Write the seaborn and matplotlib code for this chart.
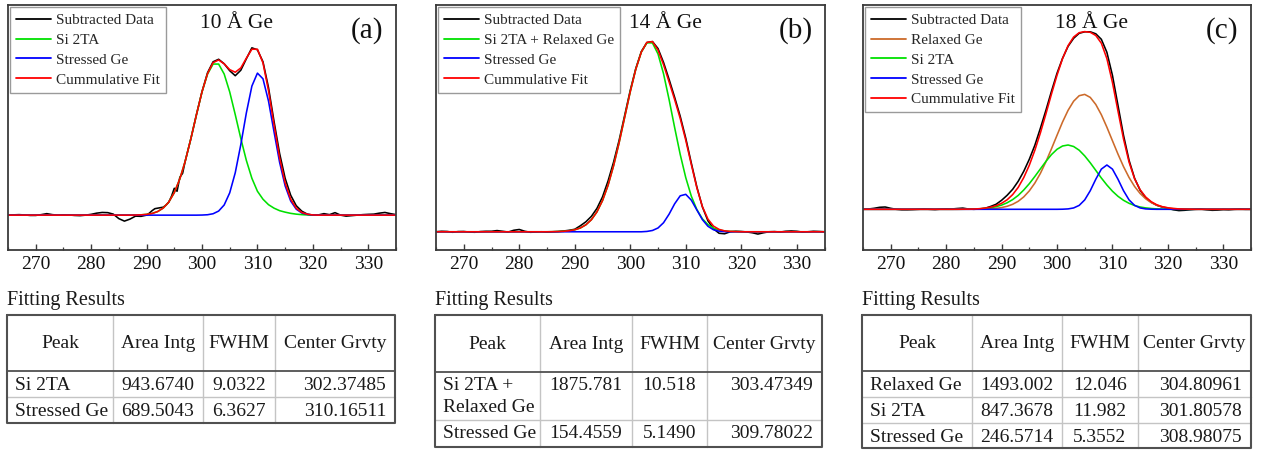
import numpy as np
import matplotlib
matplotlib.use("Agg")
import matplotlib.pyplot as plt
import seaborn as sns

# ---------------- data (intensity in arbitrary units) ----------------
x_fit = np.arange(265, 336)

# panel (a) 10 A Ge
si2ta_a = [0]*23 + [0.1, 0.3, 0.8, 1.7, 3.6, 7.1, 13.1, 22.6, 36.4, 54.7, 76.9, 100.9, 123.7, 141.7,
           151.7, 151.7, 141.7, 123.7, 100.9, 77, 55, 37, 24, 16, 10.5, 7, 4.5, 3, 1.8, 1, 0.5, 0.2] + [0]*16
stressed_a = [0]*35 + [0.1, 0.4, 1.4, 4.1, 10.2, 22.4, 42.6, 70.8, 102.6, 129.6, 142.6, 136.9, 114.5,
              83.5, 53.1, 29.4, 14.2, 6.0, 2.2, 0.7, 0.2] + [0]*15
cumfit_a = [0]*23 + [0.1, 0.3, 0.8, 1.7, 3.6, 7.1, 13.1, 22.6, 36.4, 54.7, 76.9, 100.9, 123.8, 142.1,
            153.1, 155.8, 151.9, 146.1, 143.5, 147.8, 157.6, 166.6, 166.6, 152.9, 125.0, 90.5, 57.6,
            32.4, 16.0, 7.0, 2.7, 0.9, 0.2] + [0]*15
x_data_a = np.r_[265:291, 290.5:297.5:0.5, 298:336]
data_a = [0, 0.3, 0.5, 0.2, -0.3, -0.3, 0.5, 1.5, 0.5, 0, 0.3, 0.2, -0.3, -0.5, 0, 0.8, 2, 2.7, 2.5, 1,
          -3.5, -6, -4, -1, -1.2, 0,
          2, 4.5, 6.5, 7, 7.5, 8, 10, 13, 19, 27, 24, 38, 42, 55,
          77, 101, 124, 143, 154, 156.5, 152, 145, 140, 145.5, 157, 168, 166, 154, 128, 94, 62, 37, 20,
          9.5, 4, 1, 0, 0.2, 1.5, 0.5, 2.5, 0, -1, -0.5, 0, 0.5, 0.8, 1, 2, 2.7, 1.5, 0.5]

# panel (b) 14 A Ge
si2ta_relaxed_b = [0]*20 + [0.0, 0.1, 0.2, 0.5, 1.0, 2.0, 3.8, 7.0, 12.1, 20.0, 31.3, 46.7, 66.4, 89.6,
                   115.1, 140.6, 163.3, 180.5, 189.8, 189.6, 178.6, 158.6, 132.7, 104.6, 77.7, 54.4,
                   35.8, 22.3, 13.0, 7.2, 3.7, 1.8, 0.8, 0.4, 0.15] + [0]*16
stressed_b = [0]*38 + [0.35, 1.3, 3.8, 9.1, 17.7, 28.1, 36.1, 37.6, 31.8, 21.9, 12.2, 5.5, 2.0, 0.6,
              0.14] + [0]*18
cumfit_b = [0]*20 + [0.0, 0.1, 0.2, 0.5, 1.0, 2.0, 3.8, 7.0, 12.1, 20.0, 31.3, 46.7, 66.4, 89.6, 115.1,
            140.6, 163.3, 180.5, 190.2, 190.9, 182.4, 167.7, 150.4, 132.7, 113.8, 92.0, 67.6, 44.2,
            25.2, 12.7, 5.7, 2.4, 0.9, 0.4, 0.15] + [0]*16
data_b = [0, 0.5, 0.3, -0.5, 0.2, 0.3, -0.3, -0.5, 0.2, 0.5, 0.5, 1.2, 0.5, -0.3, 1.5, 2.3, 0.5, -0.5,
          -0.3, 0, -0.4, 0, 0.3, 0.8, 1.5, 2.5,
          6, 10, 15.5, 23.5, 35, 51, 70, 92, 117, 142, 164, 181, 190, 191, 184, 170, 153, 135, 116, 94,
          69, 45, 25, 11, 3, -1.5, -2, 0, 0.5, 0.3, -0.2, -1, -2.3, -1, 0, 0.2, -0.3, 0.5, 0.8, 0.5,
          -0.3, 0, 0.5, 0.3, 0]

# panel (c) 18 A Ge
relaxed_c = [0]*20 + [0.06, 0.13, 0.27, 0.52, 0.97, 1.75, 3.0, 5.0, 8.0, 12.4, 18.4, 26.2, 35.9, 47.5,
             60.5, 74.0, 87.3, 99.0, 108.1, 113.6, 114.9, 111.9, 104.8, 94.6, 82.1, 68.6, 55.2, 42.7,
             31.8, 22.8, 15.8, 10.5, 6.7, 4.1, 2.4, 1.4, 0.76, 0.4, 0.2, 0.1] + [0]*11
si2ta_c = [0]*17 + [0.03, 0.06, 0.13, 0.26, 0.49, 0.88, 1.54, 2.6, 4.2, 6.5, 9.7, 13.9, 19.3, 25.6,
           32.8, 40.4, 47.9, 54.7, 60.0, 63.3, 64.3, 62.8, 59.1, 53.4, 46.5, 38.9, 31.3, 24.3, 18.1,
           13.0, 9.0, 6.0, 3.8, 2.3, 1.4, 0.8, 0.43, 0.22, 0.1] + [0]*15
stressed_c = [0]*36 + [0.09, 0.39, 1.36, 3.9, 9.4, 18.6, 30.1, 40.2, 44.3, 40.2, 30.1, 18.6, 9.4, 3.9,
              1.36, 0.39, 0.09] + [0]*18
cumfit_c = [0]*17 + [0.03, 0.1, 0.2, 0.3, 0.6, 1.2, 2.1, 3.6, 6.0, 9.5, 14.7, 21.9, 31.7, 44.0, 59.0,
            76.3, 95.4, 115.2, 134.0, 150.7, 163.7, 172.3, 176.6, 177.7, 177.0, 173.8, 166.1, 150.7,
            126.9, 98.3, 70.3, 47.2, 30.5, 19.5, 12.3, 7.6, 4.5, 2.6, 1.5, 0.76, 0.4, 0.2, 0.1] + [0]*11
data_c = [0, 0.3, 1, 2, 2.3, 1, 0, -0.5, -0.5, -0.3,
          0, 0.3, 0, -0.3, 0.2, 0.5, 0.3, 0.8, 1.2, 0.3,
          0, 0.3, 1, 2.8, 5, 9, 14, 20, 28, 38,
          50, 64, 81, 99, 118, 136, 151, 163, 171, 176,
          177.5, 177.5, 175.5, 170, 157, 134, 104, 74, 49, 31,
          19, 11.5, 7, 4, 2.2, 1, -0.5, -1.3, -1, -0.5,
          0, 0.2, -0.5, -1, -0.8, -0.3, -0.5, 0, 0.2, 0, 0]

x_ticks = [270, 280, 290, 300, 310, 320, 330]
titles = ["10 Å Ge", "14 Å Ge", "18 Å Ge"]
panel_tags = ["(a)", "(b)", "(c)"]

# fitting-result tables
tab_header = ["Peak", "Area Intg", "FWHM", "Center Grvty"]
peak_a = ["Si 2TA", "Stressed Ge"]
area_a = ["943.6740", "689.5043"]
fwhm_a = ["9.0322", "6.3627"]
cent_a = ["302.37485", "310.16511"]
peak_b = ["Si 2TA +\nRelaxed Ge", "Stressed Ge"]
area_b = ["1875.781", "154.4559"]
fwhm_b = ["10.518", "5.1490"]
cent_b = ["303.47349", "309.78022"]
peak_c = ["Relaxed Ge", "Si 2TA", "Stressed Ge"]
area_c = ["1493.002", "847.3678", "246.5714"]
fwhm_c = ["12.046", "11.982", "5.3552"]
cent_c = ["304.80961", "301.80578", "308.98075"]

# ---------------- style ----------------
sns.set_style("ticks")
plt.rcParams['font.family'] = ['Liberation Serif', 'DejaVu Serif']
plt.rcParams['axes.unicode_minus'] = False

BLACK, GREEN, BLUE, RED, ORANGE = "#000000", "#00e000", "#0000ff", "#ff0000", "#cc6a2a"
SPINE = "#3a3a3a"

W, H = 1264, 455
fig = plt.figure(figsize=(W / 100, H / 100), dpi=100)


def add_ax(left, top, w, h):
    return fig.add_axes([left / W, 1 - (top + h) / H, w / W, h / H])


def style_axes(ax, ylim):
    ax.set_xlim(265, 335)
    ax.set_ylim(*ylim)
    ax.set_xticks(x_ticks)
    ax.set_xticks(np.arange(265, 336, 5), minor=True)
    ax.set_yticks([])
    ax.tick_params(axis='x', which='major', direction='in', length=4, width=1, colors=SPINE,
                   labelcolor='#111111', labelsize=14, pad=4)
    ax.tick_params(axis='x', which='minor', direction='in', length=2.5, width=0.9, colors=SPINE)
    for s in ax.spines.values():
        s.set_color(SPINE)
        s.set_linewidth(1.3)
    ax.set_xlabel("")
    ax.set_ylabel("")


def add_legend(ax):
    leg = ax.legend(loc='upper left', bbox_to_anchor=(0.0, 1.0), borderaxespad=0.15, frameon=True,
                    fancybox=False, edgecolor='#9a9a9a', framealpha=1, fontsize=11,
                    handlelength=2.25, handletextpad=0.35, labelspacing=0.4, borderpad=0.4)
    leg.get_frame().set_linewidth(1.0)
    for line in leg.get_lines():
        line.set_linewidth(1.3)


LW = 1.15
panels = [
    dict(box=(8, 5, 388, 245), ylim=(-35, 211),
         data=(x_data_a, data_a),
         comps=[("Si 2TA", si2ta_a, GREEN), ("Stressed Ge", stressed_a, BLUE)],
         fit=cumfit_a),
    dict(box=(436, 5, 388.5, 245), ylim=(-18.3, 227.7),
         data=(x_fit, data_b),
         comps=[("Si 2TA + Relaxed Ge", si2ta_relaxed_b, GREEN), ("Stressed Ge", stressed_b, BLUE)],
         fit=cumfit_b),
    dict(box=(863, 5, 388, 245), ylim=(-40.7, 204.3),
         data=(x_fit, data_c),
         comps=[("Relaxed Ge", relaxed_c, ORANGE), ("Si 2TA", si2ta_c, GREEN),
                ("Stressed Ge", stressed_c, BLUE)],
         fit=cumfit_c),
]

for i, p in enumerate(panels):
    ax = add_ax(*p['box'])
    xd, yd = p['data']
    sns.lineplot(x=xd, y=yd, ax=ax, color=BLACK, lw=LW, label="Subtracted Data")
    for name, vals, col in p['comps']:
        sns.lineplot(x=x_fit, y=vals, ax=ax, color=col, lw=LW, label=name)
    sns.lineplot(x=x_fit, y=p['fit'], ax=ax, color=RED, lw=LW, label="Cummulative Fit")
    style_axes(ax, p['ylim'])
    add_legend(ax)
    ax.text(0.59, 0.925, titles[i], transform=ax.transAxes, ha='center', va='center', fontsize=15.5,
            color='#111111')
    ax.text(0.925, 0.895, panel_tags[i], transform=ax.transAxes, ha='center', va='center',
            fontsize=21, color='#111111')

# ---------------- tables ----------------
axt = fig.add_axes([0, 0, 1, 1], zorder=-1)
axt.set_xlim(0, W)
axt.set_ylim(H, 0)
axt.axis('off')

tables = [
    dict(left=7, cols=[113, 203, 275], right=395, top=315, hb=371, rows=[397, 423],
         cells=(peak_a, area_a, fwhm_a, cent_a)),
    dict(left=435, cols=[540, 632, 707], right=822, top=315, hb=372, rows=[420, 447],
         cells=(peak_b, area_b, fwhm_b, cent_b)),
    dict(left=862, cols=[972, 1062, 1138], right=1251, top=315, hb=371, rows=[397, 423, 448],
         cells=(peak_c, area_c, fwhm_c, cent_c)),
]
TXT = '#1a1a1a'
DARK = '#505050'
LIGHT = '#c4c4c4'
FS = 14
for t in tables:
    L, R, T, HB = t['left'], t['right'], t['top'], t['hb']
    bottom = t['rows'][-1]
    axt.text(L, 300, "Fitting Results", fontsize=14.5, ha='left', va='center', color=TXT)
    edges = [L] + t['cols'] + [R]
    for c in t['cols']:
        axt.plot([c, c], [T, bottom], color=LIGHT, lw=1.0)
    for r in t['rows'][:-1]:
        axt.plot([L, R], [r, r], color=LIGHT, lw=1.0)
    axt.plot([L, R], [HB, HB], color=DARK, lw=1.3)
    axt.plot([L, R, R, L, L], [T, T, bottom, bottom, T], color=DARK, lw=1.5)
    for j, h in enumerate(tab_header):
        axt.text((edges[j] + edges[j + 1]) / 2, (T + HB) / 2 + 1, h, fontsize=FS, ha='center',
                 va='center', color=TXT)
    peaks, areas, fwhms, cents = t['cells']
    row_tops = [HB] + t['rows'][:-1]
    for k in range(len(peaks)):
        yc = row_tops[k] + 14
        for m, line in enumerate(peaks[k].split("\n")):
            axt.text(L + 8, yc + m * 22, line, fontsize=FS, ha='left', va='center', color=TXT)
        axt.text((edges[1] + edges[2]) / 2, yc, areas[k], fontsize=FS, ha='center', va='center',
                 color=TXT)
        axt.text((edges[2] + edges[3]) / 2, yc, fwhms[k], fontsize=FS, ha='center', va='center',
                 color=TXT)
        axt.text(R - 9, yc, cents[k], fontsize=FS, ha='right', va='center', color=TXT)

fig.savefig("out.png", dpi=100)
